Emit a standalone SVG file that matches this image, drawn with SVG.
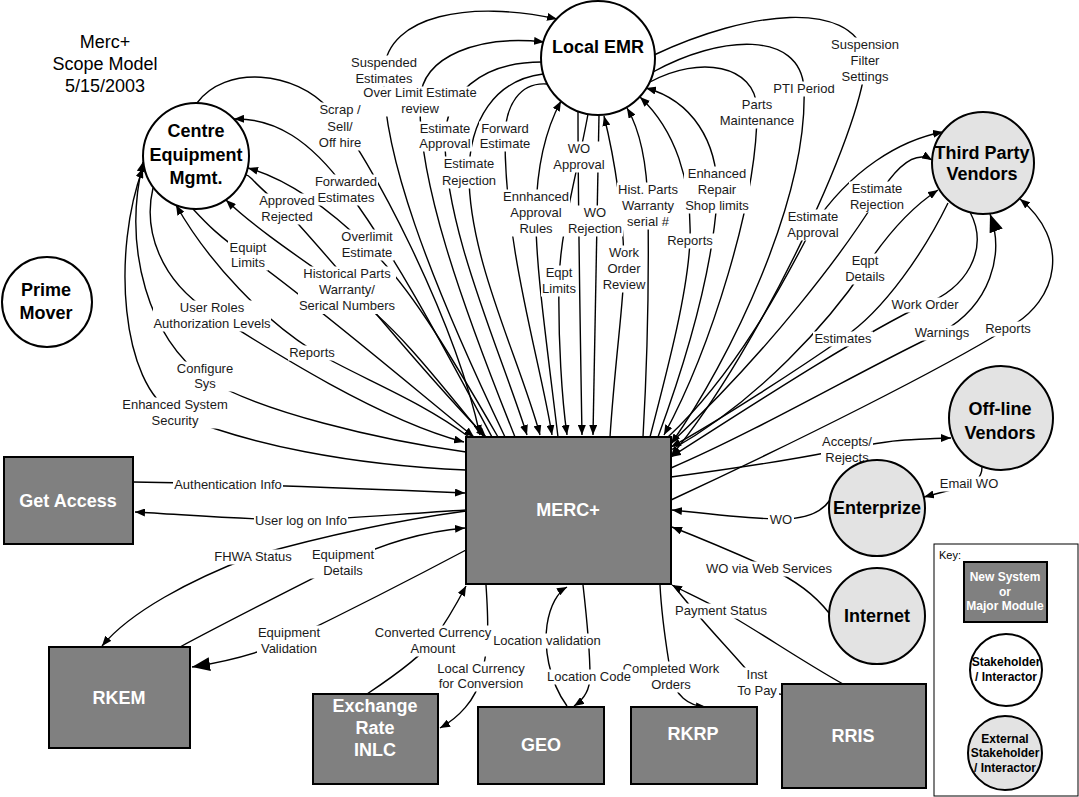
<svg xmlns="http://www.w3.org/2000/svg" width="1079" height="797" viewBox="0 0 1079 797">
<defs>
<style>
.c{fill:none;stroke:#000;stroke-width:1.4}
.lb{fill:#fff}
.l{font-family:"Liberation Sans",Arial,sans-serif;font-size:13px;text-anchor:middle;fill:#1a1a1a}
.t{font-family:"Liberation Sans",Arial,sans-serif;font-size:18px;text-anchor:middle;fill:#000}
.nb{font-family:"Liberation Sans",Arial,sans-serif;font-size:18px;font-weight:bold;text-anchor:middle;fill:#000}
.wb{font-family:"Liberation Sans",Arial,sans-serif;font-size:18px;font-weight:bold;text-anchor:middle;fill:#fff}
.kb{font-family:"Liberation Sans",Arial,sans-serif;font-size:12px;font-weight:bold;text-anchor:middle}
.box{fill:#808080;stroke:#000;stroke-width:2}
.cw{fill:#fff;stroke:#000;stroke-width:2}
.cg{fill:#e3e3e3;stroke:#000;stroke-width:2}
</style>
<marker id="a" viewBox="0 0 10 8" refX="10" refY="4" markerWidth="10" markerHeight="8" markerUnits="userSpaceOnUse" orient="auto"><path d="M0,0 L10,4 L0,8 z" fill="#000"/></marker>
<marker id="b" viewBox="0 0 18 14" refX="18" refY="7" markerWidth="18" markerHeight="14" markerUnits="userSpaceOnUse" orient="auto"><path d="M0,0 L18,7 L0,14 z" fill="#000"/></marker>
</defs>
<rect width="1079" height="797" fill="#fff"/>

<g id="connectors">
<path class="c" marker-end="url(#a)" d="M505,437 C430,280 380,150 384,70 C388,15 470,0 557,19"/>
<path class="c" marker-end="url(#a)" d="M515,437 C460,300 418,180 420,100 C422,55 480,35 544,42"/>
<path class="c" marker-end="url(#a)" d="M542,62 C480,62 445,95 445,140 C445,230 500,350 527,435"/>
<path class="c" marker-end="url(#a)" d="M543,74 C495,80 469,120 469,175 C469,260 520,360 540,435"/>
<path class="c" marker-end="url(#a)" d="M547,84 C520,82 505,105 505,138 C505,250 540,360 552,435"/>
<path class="c" marker-end="url(#a)" d="M558,437 C545,330 535,260 536,212 C537,160 548,125 561,101"/>
<path class="c" marker-end="url(#a)" d="M578,112 C578,200 580,320 582,435"/>
<path class="c" marker-end="url(#a)" d="M588,114 C578,170 560,230 559,282 C558,340 562,400 567,435"/>
<path class="c" marker-end="url(#a)" d="M599,115 C597,200 596,300 593,435"/>
<path class="c" marker-end="url(#a)" d="M610,437 C615,360 624,300 624,268 C624,220 615,160 604,116"/>
<path class="c" marker-end="url(#a)" d="M643,437 C648,350 649,280 648,207 C647,160 640,130 627,108"/>
<path class="c" marker-end="url(#a)" d="M650,437 C670,360 688,290 690,240 C692,180 675,130 640,97"/>
<path class="c" marker-end="url(#a)" d="M658,437 C690,350 712,270 717,200 C720,140 690,100 646,88"/>
<path class="c" marker-end="url(#a)" d="M650,82 C700,55 755,65 757,108 C758,200 710,350 664,435"/>
<path class="c" marker-end="url(#a)" d="M653,72 C720,35 800,30 804,88 C808,200 730,360 671,444"/>
<path class="c" marker-end="url(#a)" d="M654,55 C750,10 850,0 865,55 C872,110 760,350 671,456"/>
<path class="c" marker-end="url(#a)" d="M668,437 C740,370 790,270 813,226 C850,170 900,140 943,132"/>
<path class="c" marker-end="url(#a)" d="M671,443 C770,350 845,250 877,198 C897,165 915,150 932,160"/>
<path class="c" marker-end="url(#a)" d="M671,450 C760,400 830,320 865,268 C890,230 915,205 938,190"/>
<path class="c" marker-end="url(#a)" d="M948,203 C925,250 885,310 843,338 C800,368 720,420 671,447"/>
<path class="c" marker-end="url(#a)" d="M970,212 C990,250 965,290 925,304 C860,335 760,400 671,457"/>
<path class="c" marker-end="url(#b)" d="M671,468 C760,430 880,360 942,332 C990,305 1005,255 990,214"/>
<path class="c" marker-end="url(#a)" d="M671,500 C800,440 940,370 1008,328 C1060,300 1070,240 1020,199"/>
<path class="c" marker-end="url(#a)" d="M671,477 C760,465 800,458 830,452 C860,446 885,441 905,440 C925,439 940,438 951,438"/>
<path class="c" marker-end="url(#a)" d="M982,467 C982,478 975,484 962,487 C947,491 935,494 924,497"/>
<path class="c" marker-end="url(#a)" d="M830,500 C822,512 805,519 781,519 C750,519 700,513 672,510"/>
<path class="c" marker-end="url(#a)" d="M829,613 C815,595 795,580 769,568 C740,555 700,538 672,527"/>
<path class="c" marker-end="url(#a)" d="M843,684 C800,660 760,632 721,610 C700,598 685,592 672,585"/>
<path class="c" marker-end="url(#a)" d="M674,586 C700,620 735,655 757,682 C770,697 800,700 815,686"/>
<path class="c" marker-end="url(#a)" d="M660,585 C662,625 668,655 671,676 C675,695 688,706 706,707"/>
<path class="c" marker-end="url(#a)" d="M567,706 C548,680 544,645 547,625 C550,605 558,592 567,587"/>
<path class="c" marker-end="url(#a)" d="M583,585 C587,620 590,655 590,676 C590,690 583,700 574,706"/>
<path class="c" marker-end="url(#a)" d="M367,694 C400,672 425,652 433,640 C445,624 456,605 466,586"/>
<path class="c" marker-end="url(#a)" d="M486,585 C488,615 490,645 481,677 C476,700 458,718 440,728"/>
<path class="c" marker-end="url(#a)" d="M466,511 C400,520 320,537 253,556 C190,580 130,612 102,646"/>
<path class="c" marker-end="url(#a)" d="M180,647 C230,620 290,590 343,563 C390,540 430,531 465,528"/>
<path class="c" marker-end="url(#b)" d="M466,550 C400,585 330,620 289,640 C260,653 230,661 192,667"/>
<path class="c" marker-end="url(#a)" d="M133,482 C200,483 350,488 465,493"/>
<path class="c" marker-end="url(#a)" d="M466,510 C400,514 330,520 301,520 C250,520 190,515 135,512"/>
<path class="c" marker-end="url(#a)" d="M197,103 C225,65 295,70 330,110 C370,155 455,320 480,435"/>
<path class="c" marker-end="url(#a)" d="M492,437 C440,340 395,255 346,189 C310,140 275,118 234,119"/>
<path class="c" marker-end="url(#a)" d="M232,192 C228,176 242,168 252,179 C262,190 275,200 290,215 C350,280 420,370 486,437"/>
<path class="c" marker-end="url(#a)" d="M498,437 C445,345 405,280 367,246 C330,210 290,180 248,168"/>
<path class="c" marker-end="url(#a)" d="M484,437 C430,370 390,320 347,291 C300,258 255,228 226,200"/>
<path class="c" marker-end="url(#a)" d="M193,209 C205,222 220,238 248,256 C310,300 410,385 474,437"/>
<path class="c" marker-end="url(#a)" d="M469,437 C420,400 360,378 312,350 C265,320 210,265 176,205"/>
<path class="c" marker-end="url(#a)" d="M153,188 C143,230 160,280 210,312 C270,350 380,420 464,442"/>
<path class="c" marker-end="url(#a)" d="M466,452 C380,440 260,412 205,378 C150,340 122,250 143,162"/>
<path class="c" marker-end="url(#a)" d="M466,470 C350,465 250,445 175,414 C120,385 112,250 143,168"/>
</g>

<g id="labels">
<rect class="lb" x="350" y="55.5" width="68" height="31"/><text class="l"><tspan x="384" y="66.5">Suspended</tspan><tspan x="384" y="82.5">Estimates</tspan></text>
<rect class="lb" x="361" y="86.5" width="118" height="30"/><text class="l"><tspan x="420" y="96.5">Over Limit Estimate</tspan><tspan x="420" y="112.5">review</tspan></text>
<rect class="lb" x="418" y="121.5" width="54" height="30"/><text class="l"><tspan x="445" y="132.5">Estimate</tspan><tspan x="445" y="147.5">Approval</tspan></text>
<rect class="lb" x="441" y="156.5" width="56" height="32"/><text class="l"><tspan x="469" y="167.5">Estimate</tspan><tspan x="469" y="184.5">Rejection</tspan></text>
<rect class="lb" x="479" y="121.5" width="52" height="30"/><text class="l"><tspan x="505" y="132.5">Forward</tspan><tspan x="505" y="147.5">Estimate</tspan></text>
<rect class="lb" x="502" y="189.5" width="68" height="47"/><text class="l"><tspan x="536" y="200.5">Ennhanced</tspan><tspan x="536" y="216.5">Approval</tspan><tspan x="536" y="232.5">Rules</tspan></text>
<rect class="lb" x="552" y="141.5" width="54" height="31"/><text class="l"><tspan x="579" y="152.5">WO</tspan><tspan x="579" y="168.5">Approval</tspan></text>
<rect class="lb" x="617" y="182.5" width="62" height="47"/><text class="l"><tspan x="648" y="193.5">Hist. Parts</tspan><tspan x="648" y="209.5">Warranty</tspan><tspan x="648" y="225.5">serial #</tspan></text>
<rect class="lb" x="567" y="205.5" width="56" height="31"/><text class="l"><tspan x="595" y="216.5">WO</tspan><tspan x="595" y="232.5">Rejection</tspan></text>
<rect class="lb" x="541" y="265.5" width="36" height="31"/><text class="l"><tspan x="559" y="276.5">Eqpt</tspan><tspan x="559" y="292.5">Limits</tspan></text>
<rect class="lb" x="601" y="245.5" width="46" height="47"/><text class="l"><tspan x="624" y="256.5">Work</tspan><tspan x="624" y="272.5">Order</tspan><tspan x="624" y="288.5">Review</tspan></text>
<rect class="lb" x="666" y="233.5" width="48" height="15"/><text class="l" x="690" y="244.5">Reports</text>
<rect class="lb" x="684" y="166.5" width="66" height="47"/><text class="l"><tspan x="717" y="177.5">Enhanced</tspan><tspan x="717" y="193.5">Repair</tspan><tspan x="717" y="209.5">Shop limits</tspan></text>
<rect class="lb" x="719" y="97.5" width="76" height="31"/><text class="l"><tspan x="757" y="108.5">Parts</tspan><tspan x="757" y="124.5">Maintenance</tspan></text>
<rect class="lb" x="772" y="81.5" width="64" height="15"/><text class="l" x="804" y="92.5">PTI Period</text>
<rect class="lb" x="830" y="37.5" width="70" height="47"/><text class="l"><tspan x="865" y="48.5">Suspension</tspan><tspan x="865" y="64.5">Filter</tspan><tspan x="865" y="80.5">Settings</tspan></text>
<rect class="lb" x="849" y="181.5" width="56" height="31"/><text class="l"><tspan x="877" y="192.5">Estimate</tspan><tspan x="877" y="208.5">Rejection</tspan></text>
<rect class="lb" x="786" y="209.5" width="54" height="31"/><text class="l"><tspan x="813" y="220.5">Estimate</tspan><tspan x="813" y="236.5">Approval</tspan></text>
<rect class="lb" x="844" y="253.5" width="42" height="31"/><text class="l"><tspan x="865" y="264.5">Eqpt</tspan><tspan x="865" y="280.5">Details</tspan></text>
<rect class="lb" x="890" y="297.5" width="70" height="15"/><text class="l" x="925" y="308.5">Work Order</text>
<rect class="lb" x="813" y="331.5" width="60" height="15"/><text class="l" x="843" y="342.5">Estimates</text>
<rect class="lb" x="913" y="325.5" width="58" height="15"/><text class="l" x="942" y="336.5">Warnings</text>
<rect class="lb" x="984" y="321.5" width="48" height="15"/><text class="l" x="1008" y="332.5">Reports</text>
<rect class="lb" x="821" y="434.5" width="52" height="31"/><text class="l"><tspan x="847" y="445.5">Accepts/</tspan><tspan x="847" y="461.5">Rejects</tspan></text>
<rect class="lb" x="939" y="476.5" width="60" height="15"/><text class="l" x="969" y="487.5">Email WO</text>
<rect class="lb" x="768" y="512.5" width="26" height="15"/><text class="l" x="781" y="523.5">WO</text>
<rect class="lb" x="705" y="561.5" width="128" height="15"/><text class="l" x="769" y="572.5">WO via Web Services</text>
<rect class="lb" x="674" y="603.5" width="94" height="15"/><text class="l" x="721" y="614.5">Payment Status</text>
<rect class="lb" x="735" y="667.5" width="44" height="31"/><text class="l"><tspan x="757" y="678.5">Inst</tspan><tspan x="757" y="694.5">To Pay</tspan></text>
<rect class="lb" x="621" y="661.5" width="100" height="31"/><text class="l"><tspan x="671" y="672.5">Completed Work</tspan><tspan x="671" y="688.5">Orders</tspan></text>
<rect class="lb" x="492" y="633.5" width="110" height="15"/><text class="l" x="547" y="644.5">Location validation</text>
<rect class="lb" x="546" y="669.5" width="86" height="15"/><text class="l" x="589" y="680.5">Location Code</text>
<rect class="lb" x="374" y="625.5" width="118" height="31"/><text class="l"><tspan x="433" y="636.5">Converted Currency</tspan><tspan x="433" y="652.5">Amount</tspan></text>
<rect class="lb" x="436" y="661.5" width="90" height="30"/><text class="l"><tspan x="481" y="672.5">Local Currency</tspan><tspan x="481" y="687.5">for Conversion</tspan></text>
<rect class="lb" x="212" y="549.5" width="82" height="15"/><text class="l" x="253" y="560.5">FHWA Status</text>
<rect class="lb" x="311" y="547.5" width="64" height="31"/><text class="l"><tspan x="343" y="558.5">Equipment</tspan><tspan x="343" y="574.5">Details</tspan></text>
<rect class="lb" x="257" y="625.5" width="64" height="31"/><text class="l"><tspan x="289" y="636.5">Equipment</tspan><tspan x="289" y="652.5">Validation</tspan></text>
<rect class="lb" x="173" y="477.5" width="110" height="15"/><text class="l" x="228" y="488.5">Authentication Info</text>
<rect class="lb" x="254" y="513.5" width="94" height="15"/><text class="l" x="301" y="524.5">User log on Info</text>
<rect class="lb" x="317" y="102.5" width="46" height="48"/><text class="l"><tspan x="340" y="113.5">Scrap /</tspan><tspan x="340" y="130.5">Sell/</tspan><tspan x="340" y="146.5">Off hire</tspan></text>
<rect class="lb" x="314" y="174.5" width="64" height="31"/><text class="l"><tspan x="346" y="185.5">Forwarded</tspan><tspan x="346" y="201.5">Estimates</tspan></text>
<rect class="lb" x="258" y="193.5" width="58" height="31"/><text class="l"><tspan x="287" y="204.5">Approved</tspan><tspan x="287" y="220.5">Rejected</tspan></text>
<rect class="lb" x="340" y="229.5" width="54" height="31"/><text class="l"><tspan x="367" y="240.5">Overlimit</tspan><tspan x="367" y="256.5">Estimate</tspan></text>
<rect class="lb" x="228" y="240.5" width="40" height="30"/><text class="l"><tspan x="248" y="251.5">Equipt</tspan><tspan x="248" y="266.5">Limits</tspan></text>
<rect class="lb" x="298" y="266.5" width="98" height="47.5"/><text class="l"><tspan x="347" y="277.5">Historical Parts</tspan><tspan x="347" y="293.5">Warranty/</tspan><tspan x="347" y="310">Serical Numbers</tspan></text>
<rect class="lb" x="153" y="300.5" width="118" height="31"/><text class="l"><tspan x="212" y="311.5">User Roles</tspan><tspan x="212" y="327.5">Authorization Levels</tspan></text>
<rect class="lb" x="288" y="345.5" width="48" height="15"/><text class="l" x="312" y="356.5">Reports</text>
<rect class="lb" x="176" y="361.5" width="58" height="30"/><text class="l"><tspan x="205" y="372.5">Configure</tspan><tspan x="205" y="387.5">Sys</tspan></text>
<rect class="lb" x="121" y="397.5" width="108" height="31"/><text class="l"><tspan x="175" y="408.5">Enhanced System</tspan><tspan x="175" y="424.5">Security</tspan></text>
</g>

<g id="title">
<text class="t"><tspan x="105" y="48">Merc+</tspan><tspan x="105" y="70">Scope Model</tspan><tspan x="105" y="92">5/15/2003</tspan></text>
</g>

<g id="local-emr"><circle class="cw" cx="598" cy="58" r="57"/><text class="nb" x="598" y="53">Local EMR</text></g>
<g id="centre-equipment"><circle class="cw" cx="196" cy="156" r="53"/><text class="nb"><tspan x="196" y="136.5">Centre</tspan><tspan x="196" y="160.5">Equipment</tspan><tspan x="196" y="183.5">Mgmt.</tspan></text></g>
<g id="prime-mover"><circle class="cw" cx="47" cy="302" r="45"/><text class="nb"><tspan x="46" y="295.5">Prime</tspan><tspan x="46" y="318.5">Mover</tspan></text></g>
<g id="third-party"><circle class="cg" cx="983" cy="163" r="51"/><text class="nb"><tspan x="982" y="158.5">Third Party</tspan><tspan x="982" y="179.5">Vendors</tspan></text></g>
<g id="offline-vendors"><circle class="cg" cx="1001" cy="418" r="52"/><text class="nb"><tspan x="1000" y="414.5">Off-line</tspan><tspan x="1000" y="438.5">Vendors</tspan></text></g>
<g id="enterprize"><circle class="cg" cx="877" cy="508" r="48"/><text class="nb" x="877" y="513.5">Enterprize</text></g>
<g id="internet"><circle class="cg" cx="877" cy="616" r="48"/><text class="nb" x="877" y="621.5">Internet</text></g>
<g id="merc"><rect class="box" x="466" y="437" width="205" height="147"/><text class="wb" x="568" y="516">MERC+</text></g>
<g id="get-access"><rect class="box" x="4" y="457" width="129" height="87"/><text class="wb" x="68" y="506.5">Get Access</text></g>
<g id="rkem"><rect class="box" x="49" y="647" width="141" height="101"/><text class="wb" x="119" y="703.5">RKEM</text></g>
<g id="exchange-rate"><rect class="box" x="313" y="694" width="125" height="90"/><text class="wb"><tspan x="375" y="711.5">Exchange</tspan><tspan x="375" y="733.5">Rate</tspan><tspan x="375" y="755.5">INLC</tspan></text></g>
<g id="geo"><rect class="box" x="478" y="707" width="126" height="77"/><text class="wb" x="541" y="750.5">GEO</text></g>
<g id="rkrp"><rect class="box" x="631" y="707" width="126" height="77"/><text class="wb" x="693" y="739.5">RKRP</text></g>
<g id="rris"><rect class="box" x="782" y="684" width="144" height="104"/><text class="wb" x="853" y="741.5">RRIS</text></g>

<g id="key">
<rect x="934" y="544" width="144" height="252" fill="#fff" stroke="#000" stroke-width="1"/>
<text x="939" y="559" font-family="Liberation Sans, Arial, sans-serif" font-size="11">Key:</text>
<rect class="box" x="964" y="562" width="83" height="60"/>
<text class="kb" fill="#fff"><tspan x="1005" y="581">New System</tspan><tspan x="1005" y="596">or</tspan><tspan x="1005" y="610">Major Module</tspan></text>
<circle class="cw" cx="1006" cy="670" r="36"/>
<text class="kb" fill="#000"><tspan x="1006" y="666">Stakeholder</tspan><tspan x="1006" y="681">/ Interactor</tspan></text>
<circle class="cg" cx="1005" cy="753" r="37"/>
<text class="kb" fill="#000"><tspan x="1005" y="743">External</tspan><tspan x="1005" y="757">Stakeholder</tspan><tspan x="1005" y="772">/ Interactor</tspan></text>
</g>
</svg>
